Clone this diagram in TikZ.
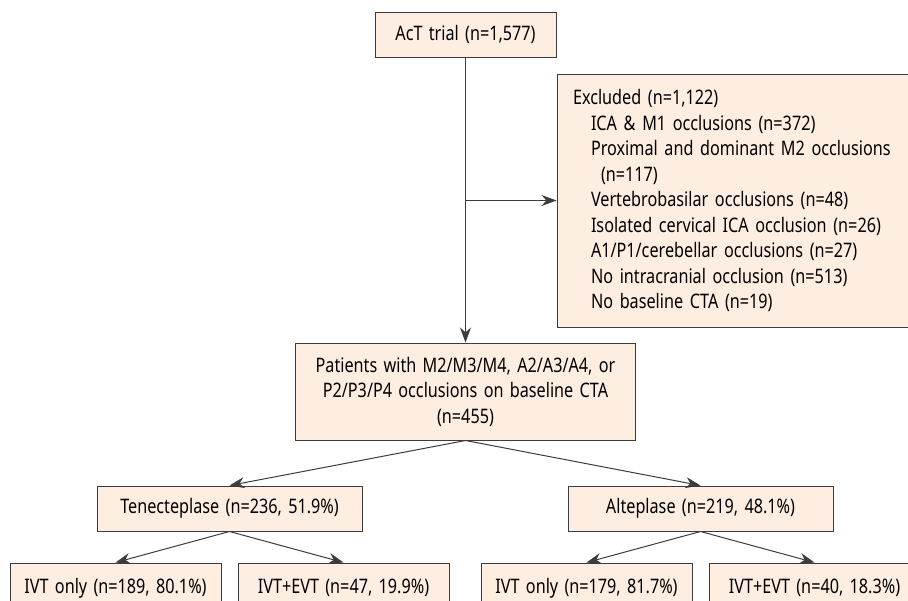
\documentclass[tikz,border=0pt]{standalone}
\usepackage{fontspec}
\setmainfont{Noto Sans}[FakeStretch=0.81, WordSpace=1.5]
\usetikzlibrary{arrows.meta, positioning}
\definecolor{boxfill}{HTML}{FDEEE1}
\definecolor{boxline}{HTML}{3C3C3C}
\tikzset{
	flowbox/.style={draw=boxline, fill=boxfill, line width=1pt, rectangle, inner sep=0pt, align=center, font=\fontsize{20}{25.5}\selectfont},
	flowarrow/.style={draw=boxline, line width=1pt, -{Stealth[length=15pt, width=11pt]}}
}
\newcommand{\indA}{\hspace*{18pt}}
\newcommand{\indB}{\hspace*{28pt}}

\begin{document}
\begin{tikzpicture}[x=1pt, y=1pt]
	\clip (0,0) rectangle (908,-600);
	
	% 入组与排除
	\node[flowbox, minimum width=181pt, minimum height=45pt] (act) at (465.5,-34.5) {AcT trial (n=1,577)};
	\node[flowbox, minimum width=351pt, minimum height=253pt, text width=319pt, align=left, below right=16pt and 0pt of act.south east] (excl) {Excluded (n=1,122)\\
		\indA ICA \& M1 occlusions (n=372)\\
		\indA\mbox{Proximal and dominant M2 occlusions}\\
		\indB (n=117)\\
		\indA Vertebrobasilar occlusions (n=48)\\
		\indA\mbox{Isolated cervical ICA occlusion (n=26)}\\
		\indA A1/P1/cerebellar occlusions (n=27)\\
		\indA No intracranial occlusion (n=513)\\
		\indA No baseline CTA (n=19)};
	\node[flowbox, minimum width=340pt, minimum height=97pt, below=285pt of act] (pat) {Patients with M2/M3/M4, A2/A3/A4, or\\ P2/P3/P4 occlusions on baseline CTA\\ (n=455)};
	
	% 溶栓药物分组
	\node[flowbox, minimum width=265pt, minimum height=45pt, below left=45pt and 103pt of pat.south] (tnk) {Tenecteplase (n=236, 51.9\%)};
	\node[flowbox, minimum width=265pt, minimum height=45pt, below right=45pt and 102pt of pat.south] (alt) {Alteplase (n=219, 48.1\%)};
	
	% 治疗方式
	\node[flowbox, minimum width=211pt, minimum height=50pt, below left=31pt and 8pt of tnk.south] (tnkivt) {IVT only (n=189, 80.1\%)};
	\node[flowbox, minimum width=211pt, minimum height=50pt, below right=31pt and 8pt of tnk.south] (tnkevt) {IVT+EVT (n=47, 19.9\%)};
	\node[flowbox, minimum width=211pt, minimum height=50pt, below left=31pt and 8pt of alt.south] (altivt) {IVT only (n=179, 81.7\%)};
	\node[flowbox, minimum width=211pt, minimum height=50pt, below right=31pt and 8pt of alt.south] (altevt) {IVT+EVT (n=40, 18.3\%)};
	
	% 箭头
	\coordinate (split) at (act.south |- excl.west);
	\draw[flowarrow] (act.south) -- (pat.north);
	\draw[flowarrow] (split) -- (excl.west);
	\draw[flowarrow] (pat.south) -- (tnk.north);
	\draw[flowarrow] (pat.south) -- (alt.north);
	\draw[flowarrow] (tnk.south) -- (tnkivt.north);
	\draw[flowarrow] (tnk.south) -- (tnkevt.north);
	\draw[flowarrow] (alt.south) -- (altivt.north);
	\draw[flowarrow] (alt.south) -- (altevt.north);
	
\end{tikzpicture}
\end{document}
